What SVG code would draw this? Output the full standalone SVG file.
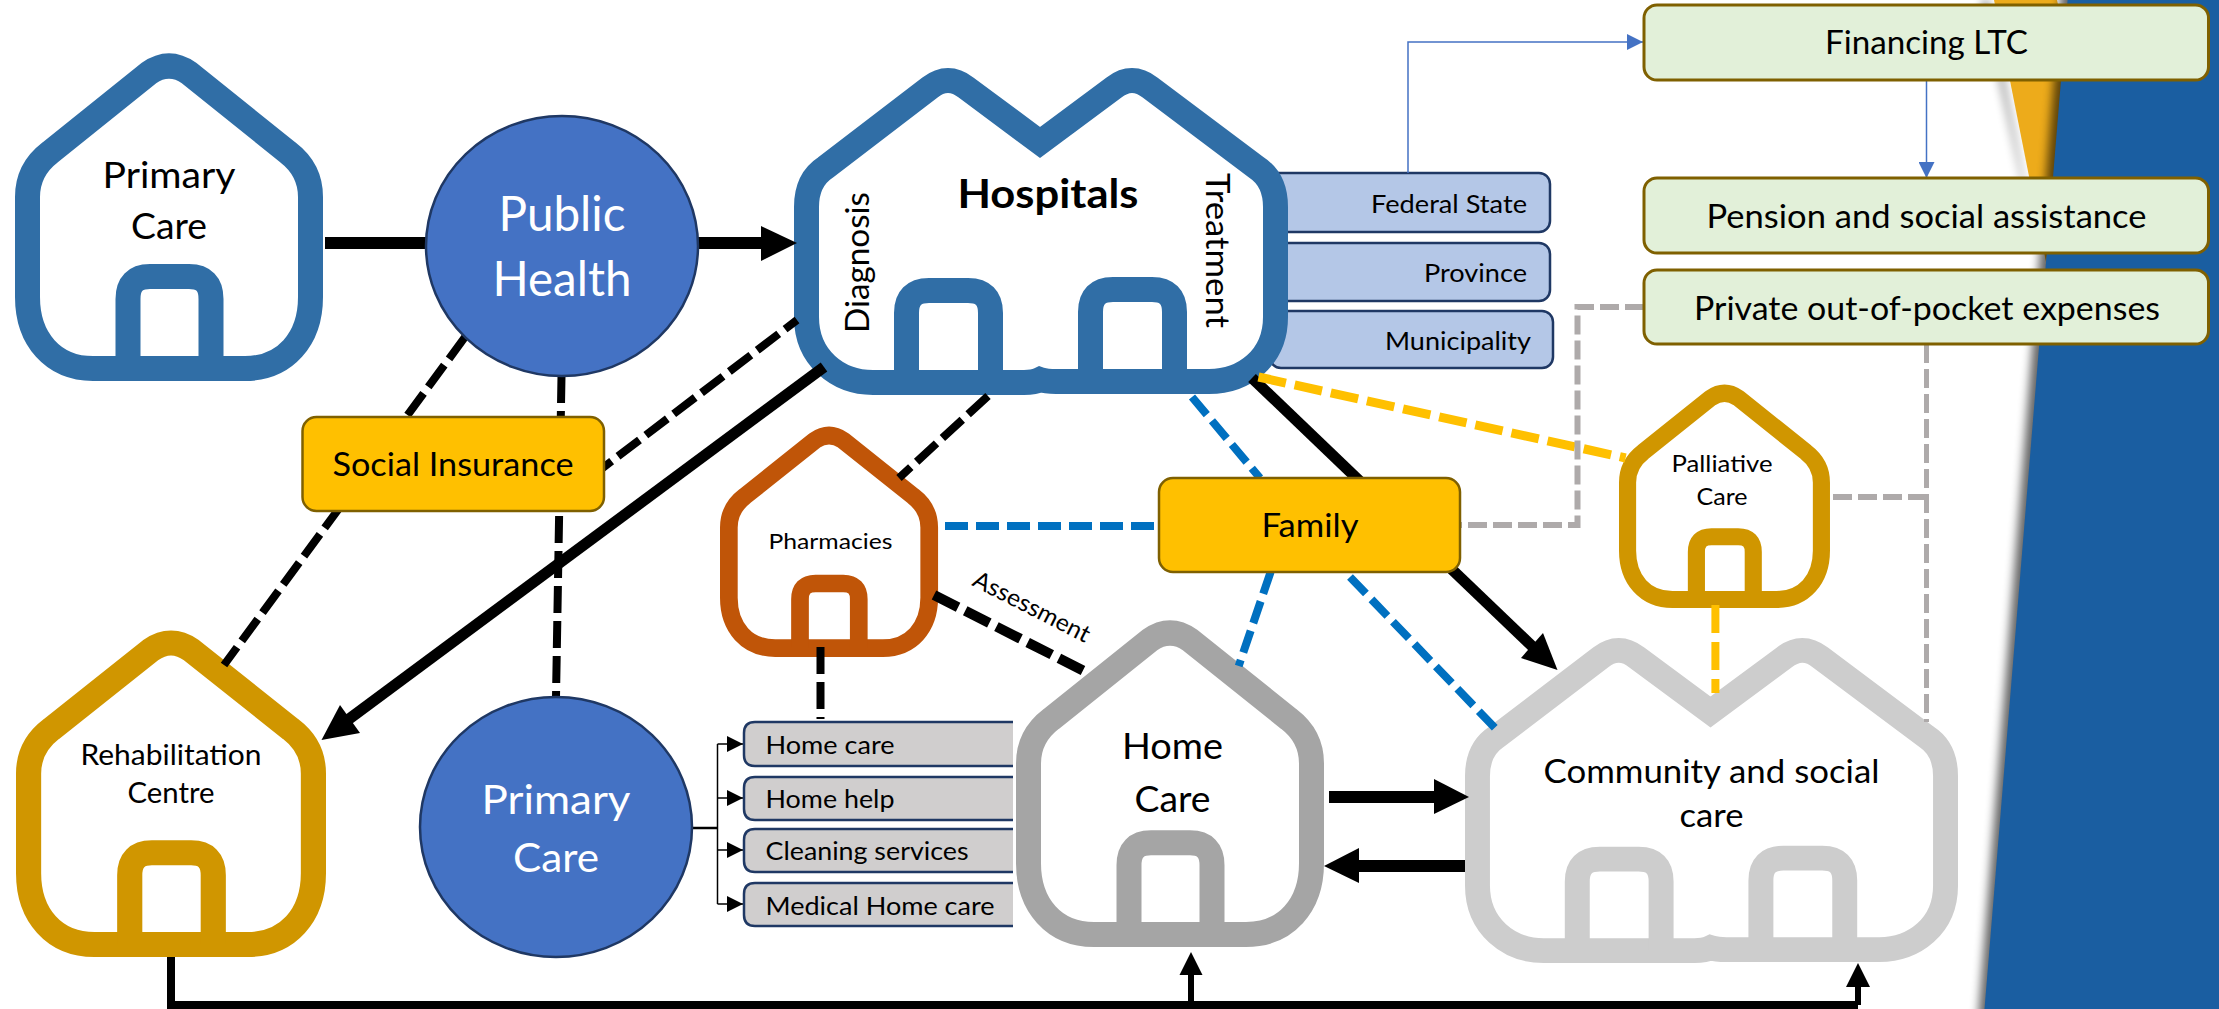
<svg xmlns="http://www.w3.org/2000/svg" width="2219" height="1009" viewBox="0 0 2219 1009">
<style>
text{font-family:Lato,"Liberation Sans",sans-serif;fill:#000;text-anchor:middle}
text.w{fill:#fff}
.house{fill:#fff;stroke-width:25;stroke-linejoin:round}
.door{fill:none;stroke-width:25}
.circle{fill:#4472C4;stroke:#1F3864;stroke-width:2.5}
.yellow{fill:#FFC000;stroke:#7F6000;stroke-width:2.5}
.green{fill:#E2F0D9;stroke:#7F6000;stroke-width:3}
.bluebox{fill:#B4C7E7;stroke:#1F3864;stroke-width:2.5}
.grey{fill:#D0CECE;stroke:#1F3864;stroke-width:2.5}
.solid{fill:none;stroke:#000}
.dk{fill:none;stroke:#000;stroke-width:8;stroke-dasharray:27 8}
.db{fill:none;stroke:#0070C0;stroke-width:8;stroke-dasharray:23 8}
.dy{fill:none;stroke:#FFC000;stroke-dasharray:28 9}
.dg{fill:none;stroke:#AEAAAA;stroke-dasharray:19 6}
.thin{fill:none;stroke:#4472C4;stroke-width:1.5}
.hair{fill:none;stroke:#000;stroke-width:1.5}
</style>
<defs>
<filter id="sh" filterUnits="userSpaceOnUse" x="1900" y="-60" width="400" height="1130"><feGaussianBlur stdDeviation="5"/></filter>
<marker id="mb" markerUnits="userSpaceOnUse" markerWidth="16" markerHeight="16" refX="16" refY="8" orient="auto"><path d="M0 0L16 8L0 16Z" fill="#4472C4"/></marker>
<marker id="mk" markerUnits="userSpaceOnUse" markerWidth="16" markerHeight="16" refX="16" refY="8" orient="auto"><path d="M0 0L16 8L0 16Z" fill="#000"/></marker>
<g id="single">
<path class="house" d="M12.5 243L12.5 143C12.5 125 20 110 35 98.5L134 19Q154 5 174 19L273 98.5C288 110 295.5 125 295.5 143L295.5 243C295.5 285 270 314.5 230 314.5L78 314.5C38 314.5 12.5 285 12.5 243Z"/>
<path class="door" d="M113 314L113 245Q113 222.5 135 222.5L174 222.5Q196 222.5 196 245L196 314"/>
</g>
<g id="double">
<path class="house" style="stroke-linejoin:miter" d="M12.5 249L12.5 139C12.5 120 20 107 31.5 99.5L136 19.5Q154 5.5 172 19.5L246 74.5L320 19.5Q338 5.5 356 19.5L462.5 99.5C474 107 481.5 120 481.5 139L481.5 249C481.5 290 450 313.5 415 313.5L262 313.5Q252 313.5 246 311.5Q240 314.5 230 314.5L79 314.5C44 314.5 12.5 290 12.5 249Z"/>
<path class="door" d="M112.5 314L112.5 245Q112.5 222.5 135 222.5L174 222.5Q196.5 222.5 196.5 245L196.5 314"/>
<path class="door" d="M296.5 313L296.5 244Q296.5 221.5 319 221.5L358 221.5Q380.5 221.5 380.5 244L380.5 313"/>
</g>
</defs>

<g id="background">
<rect width="2219" height="1009" fill="#fff"/>
<polygon points="1988,0 2040,262 2040,262 1982,0" fill="#000" opacity="0.55" filter="url(#sh)"/>
<polygon points="1994,0 2057,0 2075,80 2046,262" fill="#EDAB1B"/>
<polygon points="2061,-10 2219,-10 2219,1020 1978,1020" fill="#000" opacity="0.6" filter="url(#sh)"/>
<polygon points="2067.6,0 2219,0 2219,1009 1984.5,1009" fill="#1A5EA1"/>
</g>

<g id="node-federal"><rect class="bluebox" x="1260" y="173" width="290" height="59" rx="11"/><text x="1449" y="213" font-size="25" textLength="156" lengthAdjust="spacingAndGlyphs">Federal State</text></g>
<g id="node-province"><rect class="bluebox" x="1260" y="243" width="290" height="58" rx="11"/><text x="1475.5" y="282" font-size="25" textLength="103" lengthAdjust="spacingAndGlyphs">Province</text></g>
<g id="node-municipality"><rect class="bluebox" x="1270" y="311" width="283" height="57" rx="11"/><text x="1458" y="350" font-size="25" textLength="146" lengthAdjust="spacingAndGlyphs">Municipality</text></g>

<g id="node-primary-care-house"><use href="#single" transform="translate(15 54)" stroke="#306EA6"/>
<text x="169" y="188" font-size="37" textLength="133" lengthAdjust="spacingAndGlyphs">Primary</text><text x="169" y="239" font-size="37" textLength="76" lengthAdjust="spacingAndGlyphs">Care</text></g>

<g id="node-rehabilitation"><use href="#single" transform="translate(16 631) scale(1.0065 0.997)" stroke="#D09600"/>
<text x="171" y="765" font-size="28" textLength="181" lengthAdjust="spacingAndGlyphs">Rehabilitation</text><text x="171" y="803" font-size="28" textLength="87" lengthAdjust="spacingAndGlyphs">Centre</text></g>

<g id="node-pharmacies"><use href="#single" transform="translate(720 427) scale(0.708 0.703)" stroke="#C05508"/>
<text x="830.5" y="549" font-size="22" textLength="124" lengthAdjust="spacingAndGlyphs">Pharmacies</text></g>

<g id="node-home-care"><use href="#single" transform="translate(1016 621) scale(1 0.997)" stroke="#A5A5A5"/>
<text x="1172.5" y="759" font-size="36" textLength="101" lengthAdjust="spacingAndGlyphs">Home</text><text x="1172.5" y="812" font-size="36" textLength="76" lengthAdjust="spacingAndGlyphs">Care</text></g>

<g id="node-palliative"><use href="#single" transform="translate(1619 385) scale(0.685 0.682)" stroke="#D09600"/>
<text x="1722" y="472" font-size="23" textLength="101" lengthAdjust="spacingAndGlyphs">Palliative</text><text x="1722" y="505" font-size="23" textLength="51" lengthAdjust="spacingAndGlyphs">Care</text></g>

<g id="node-community"><use href="#double" transform="translate(1465 638) scale(0.998 0.994)" stroke="#CDCDCD"/>
<text x="1711.5" y="783" font-size="32" textLength="336" lengthAdjust="spacingAndGlyphs">Community and social</text><text x="1711.5" y="827" font-size="32" textLength="64" lengthAdjust="spacingAndGlyphs">care</text></g>

<g id="node-hospitals"><use href="#double" transform="translate(794 68)" stroke="#306EA6"/>
<text x="1048" y="208" font-size="40" font-weight="700" textLength="181" lengthAdjust="spacingAndGlyphs">Hospitals</text>
<text transform="translate(869 262.5) rotate(-90)" font-size="33" textLength="141" lengthAdjust="spacingAndGlyphs">Diagnosis</text>
<text transform="translate(1206 250.5) rotate(90)" font-size="33" textLength="155" lengthAdjust="spacingAndGlyphs">Treatment</text></g>

<g id="connectors">
<path class="solid" stroke-width="12" d="M325 243H426M698 243H765"/>
<polygon points="761,226 797,243 761,261"/>
<path class="solid" stroke-width="11" d="M824 367L345 722"/>
<polygon points="340,705 360,733 321.5,740"/>
<path class="solid" stroke-width="11" d="M1252 378L1535 649"/>
<polygon points="1543,633 1521,658 1557.5,670"/>
<path class="solid" stroke-width="12" d="M1329 797H1436"/>
<polygon points="1434,779 1469,797 1434,814"/>
<path class="solid" stroke-width="12" d="M1465 866H1357"/>
<polygon points="1359,848 1324,866 1359,883"/>
<path class="solid" stroke-width="8" d="M171 957V1005H1858"/>
<path class="solid" stroke-width="6" d="M1191 1005V973M1858 1005V985"/>
<polygon points="1179.5,975 1191,952 1202.5,975"/>
<polygon points="1846,987 1858,963 1870,987"/>
<path class="dk" d="M465 337L224 665"/>
<path class="dk" d="M561.5 376L556 697"/>
<path class="dk" style="stroke-dashoffset:12" d="M797 320L600 470"/>
<path class="dk" d="M988 396L899 478"/>
<path class="dk" d="M820.5 647V719"/>
<path class="dk" style="stroke-width:10" d="M934 595L1088 673"/>
<path class="db" d="M945 526H1160"/>
<path class="db" d="M1192 397L1260 478"/>
<path class="db" d="M1270.6 572L1238.7 666"/>
<path class="db" d="M1350 577L1495 728"/>
<path class="dy" stroke-width="9" d="M1258.5 377L1625.6 458"/>
<path class="dy" stroke-width="8" d="M1715.4 605V693"/>
<path class="dg" stroke-width="6" d="M1644 307H1577.5V525H1460"/>
<path class="dg" stroke-width="5" d="M1926.5 344V722"/>
<path class="dg" stroke-width="6" d="M1833 497H1926"/>
<path class="thin" marker-end="url(#mb)" d="M1408 173V42H1643"/>
<path class="thin" marker-end="url(#mb)" d="M1926.5 80V178"/>
<path class="hair" style="stroke-width:2.5" d="M692 828H717.5"/>
<path class="hair" d="M717.5 744V904"/>
<path class="hair" marker-end="url(#mk)" d="M717.5 744H743"/>
<path class="hair" marker-end="url(#mk)" d="M717.5 798H743"/>
<path class="hair" marker-end="url(#mk)" d="M717.5 850H743"/>
<path class="hair" marker-end="url(#mk)" d="M717.5 904H743"/>
<text transform="translate(1028 614) rotate(27)" font-size="24" textLength="128" lengthAdjust="spacingAndGlyphs">Assessment</text>
</g>

<g id="node-public-health"><ellipse class="circle" cx="562" cy="246" rx="136" ry="130"/>
<text class="w" x="562" y="231" font-size="48" textLength="127" lengthAdjust="spacingAndGlyphs">Public</text><text class="w" x="562" y="296" font-size="48" textLength="139" lengthAdjust="spacingAndGlyphs">Health</text></g>

<g id="node-primary-care-circle"><ellipse class="circle" cx="556" cy="827" rx="136" ry="130"/>
<text class="w" x="556" y="814" font-size="40" textLength="149" lengthAdjust="spacingAndGlyphs">Primary</text><text class="w" x="556" y="872" font-size="40" textLength="86" lengthAdjust="spacingAndGlyphs">Care</text></g>

<g id="node-social-insurance"><rect class="yellow" x="302.5" y="417" width="301.5" height="94" rx="14"/><text x="453" y="476" font-size="33" textLength="241" lengthAdjust="spacingAndGlyphs">Social Insurance</text></g>
<g id="node-family"><rect class="yellow" x="1159" y="478" width="301" height="94" rx="14"/><text x="1310" y="537" font-size="33" textLength="97" lengthAdjust="spacingAndGlyphs">Family</text></g>

<g id="node-svc-home-care"><path class="grey" d="M1013 722H755Q744 722 744 733V755Q744 766 755 766H1013"/><text x="830" y="754" font-size="25" textLength="129" lengthAdjust="spacingAndGlyphs">Home care</text></g>
<g id="node-svc-home-help"><path class="grey" d="M1013 777H755Q744 777 744 788V809Q744 820 755 820H1013"/><text x="830" y="808" font-size="25" textLength="129" lengthAdjust="spacingAndGlyphs">Home help</text></g>
<g id="node-svc-cleaning"><path class="grey" d="M1013 829H755Q744 829 744 840V861Q744 872 755 872H1013"/><text x="867" y="860" font-size="25" textLength="203" lengthAdjust="spacingAndGlyphs">Cleaning services</text></g>
<g id="node-svc-medical"><path class="grey" d="M1013 883H755Q744 883 744 894V915Q744 926 755 926H1013"/><text x="880" y="915" font-size="25" textLength="229" lengthAdjust="spacingAndGlyphs">Medical Home care</text></g>

<g id="node-financing"><rect class="green" x="1644" y="5" width="564.5" height="75" rx="13"/><text x="1926.5" y="54" font-size="32" textLength="203" lengthAdjust="spacingAndGlyphs">Financing LTC</text></g>
<g id="node-pension"><rect class="green" x="1644" y="178" width="564.5" height="75" rx="13"/><text x="1926.5" y="228" font-size="32" textLength="440" lengthAdjust="spacingAndGlyphs">Pension and social assistance</text></g>
<g id="node-private"><rect class="green" x="1644" y="270" width="564.5" height="74" rx="13"/><text x="1927" y="320" font-size="32" textLength="466" lengthAdjust="spacingAndGlyphs">Private out-of-pocket expenses</text></g>
</svg>
